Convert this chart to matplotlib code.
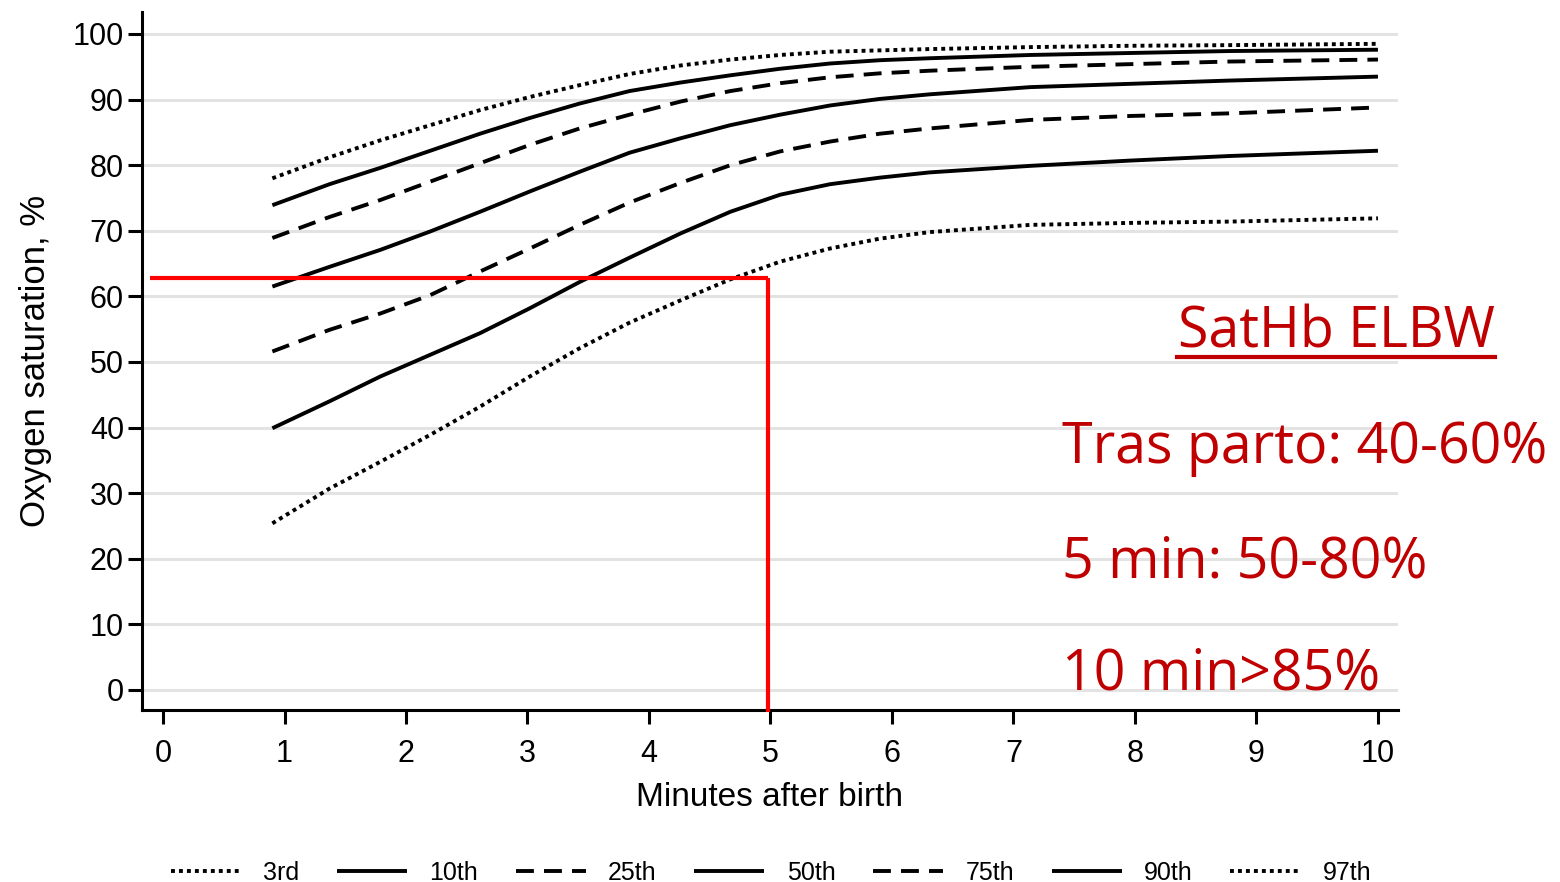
import matplotlib
matplotlib.use("Agg")
import matplotlib.pyplot as plt
from matplotlib.lines import Line2D

# ---------------- data ----------------
minutes = [0.9, 1.37, 1.79, 2.2, 2.61, 3.02, 3.43, 3.84, 4.26, 4.67,
           5.08, 5.49, 5.9, 6.31, 7.14, 7.96, 8.78, 10.0]
p3 = [25.4, 30.7, 34.8, 38.9, 43.2, 47.8, 52.1, 56.0, 59.4, 62.6,
      65.3, 67.3, 68.8, 69.8, 70.9, 71.2, 71.4, 71.9]
p10 = [39.9, 44.0, 47.8, 51.1, 54.4, 58.2, 62.2, 65.9, 69.6, 72.9,
       75.5, 77.1, 78.1, 78.9, 79.9, 80.7, 81.4, 82.2]
p25 = [51.6, 54.9, 57.4, 60.2, 63.8, 67.3, 70.9, 74.3, 77.3, 80.0,
       82.1, 83.6, 84.8, 85.6, 86.9, 87.5, 87.9, 88.8]
p50 = [61.5, 64.5, 67.1, 69.9, 72.9, 76.0, 79.0, 81.9, 84.1, 86.1,
       87.7, 89.1, 90.1, 90.8, 91.9, 92.4, 92.9, 93.5]
p75 = [68.9, 72.1, 74.7, 77.5, 80.3, 83.1, 85.6, 87.7, 89.7, 91.3,
       92.5, 93.4, 94.0, 94.4, 95.0, 95.4, 95.8, 96.1]
p90 = [73.9, 77.1, 79.6, 82.2, 84.8, 87.2, 89.4, 91.3, 92.6, 93.7,
       94.7, 95.5, 96.0, 96.3, 96.8, 97.1, 97.4, 97.6]
p97 = [78.0, 81.2, 83.8, 86.1, 88.4, 90.4, 92.2, 93.9, 95.2, 96.1,
       96.8, 97.3, 97.5, 97.7, 98.0, 98.2, 98.3, 98.5]

series_labels = ["3rd", "10th", "25th", "50th", "75th", "90th", "97th"]
series_values = [p3, p10, p25, p50, p75, p90, p97]

x_ticks = list(range(0, 11))
y_ticks = list(range(0, 101, 10))

marker_sat = 62.8      # red reference line (saturation)
marker_min = 4.98      # red reference line (minute)

title_text = "SatHb ELBW"
note_lines = ["Tras parto: 40-60%", "5 min: 50-80%", "10 min>85%"]

# ---------------- styles ----------------
DOT = (0, (1.0, 1.05))
DASH = (0, (4.6, 2.6))
styles = [DOT, "-", DASH, "-", DASH, "-", DOT]
LW = 2.8

W, H = 1560, 882
fig = plt.figure(figsize=(W / 100, H / 100), dpi=100)
fig.patch.set_facecolor("white")

ax = fig.add_axes([142 / W, 1 - 710 / H, (1398 - 142) / W, (710 - 12) / H])
ax.set_xlim(-0.173, 10.165)
ax.set_ylim(-3.05, 103.35)

for ys in y_ticks:
    ax.axhline(ys, color="#e3e3e3", lw=2.2, zorder=0)


def line_kw(ls):
    if ls == DOT:
        return dict(color="black", lw=LW, linestyle=ls, dash_capstyle="butt")
    return dict(color="black", lw=LW, linestyle=ls, dash_capstyle="butt",
                solid_capstyle="butt", solid_joinstyle="round")


for lab, vals, ls in zip(series_labels, series_values, styles):
    ax.plot(minutes, vals, label=lab, zorder=3, **line_kw(ls))

# red reference lines
ax.plot([-0.107, marker_min], [marker_sat, marker_sat], color="#ff0000", lw=3.0,
        solid_capstyle="butt", zorder=4, clip_on=False)
ax.plot([marker_min, marker_min], [marker_sat, -3.3], color="#ff0000", lw=3.0,
        solid_capstyle="butt", zorder=4, clip_on=False)

for side in ["top", "right"]:
    ax.spines[side].set_visible(False)
for side in ["left", "bottom"]:
    ax.spines[side].set_linewidth(2.2)
    ax.spines[side].set_color("black")

AX_FONT = ["Liberation Sans", "DejaVu Sans"]
ax.set_xticks(x_ticks)
ax.set_yticks(y_ticks)
ax.set_xticklabels([str(v) for v in x_ticks], family=AX_FONT, size=22)
ax.set_yticklabels([str(v) for v in y_ticks], family=AX_FONT, size=22)
ax.tick_params(axis="both", direction="out", length=10, width=2.2, color="black")
ax.tick_params(axis="x", pad=11)
ax.tick_params(axis="y", pad=3)

ax.set_xlabel("Minutes after birth", family=AX_FONT, size=24, labelpad=9)
ax.set_ylabel("Oxygen saturation, %", family=AX_FONT, size=25, labelpad=15)

# legend along the bottom
handles = [Line2D([0], [0], **line_kw(s)) for s in styles]
leg = fig.legend(handles, series_labels, loc="center", ncol=7,
                 bbox_to_anchor=(771 / W, 1 - 873 / H), frameon=False,
                 prop=dict(family=AX_FONT, size=18),
                 handlelength=2.8, handletextpad=0.9, columnspacing=1.5,
                 borderpad=0, borderaxespad=0)

# red annotation text
red = "#c00000"
tfont = ["Open Sans", "DejaVu Sans"]
fig.text(1178 / W, 1 - 347 / H, title_text, color=red, family=tfont, size=40,
         ha="left", va="baseline")
fig.add_artist(Line2D([1177 / W, 1495 / W], [1 - 357 / H, 1 - 357 / H],
                      color=red, lw=3.0, transform=fig.transFigure))
baselines = [463, 577, 690]
for txt, b in zip(note_lines, baselines):
    fig.text(1062 / W, 1 - b / H, txt, color=red, family=tfont, size=40,
             ha="left", va="baseline")

fig.savefig("out.png", dpi=100, facecolor="white")
